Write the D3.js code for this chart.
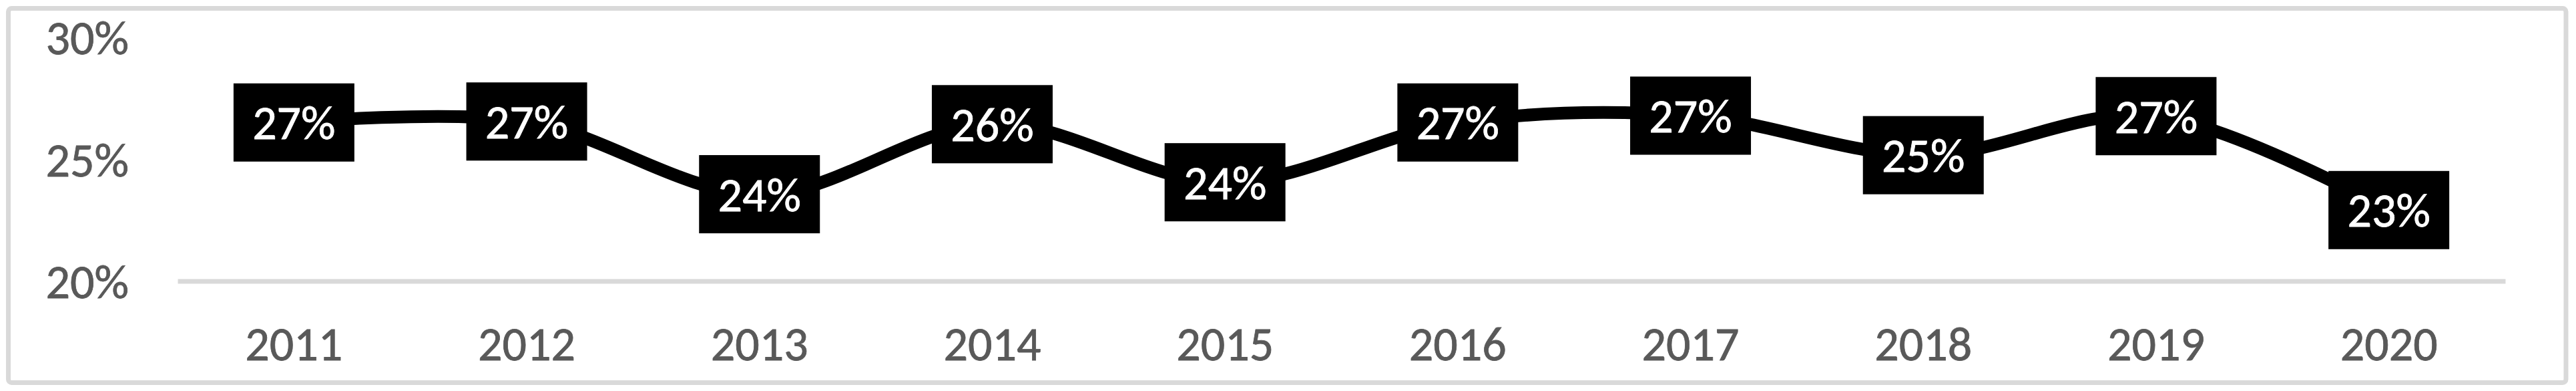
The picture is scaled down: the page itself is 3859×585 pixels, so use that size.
<!DOCTYPE html>
<meta charset="utf-8">
<style>
body { margin: 0; background: #fff; }
text { font-family: Calibri, Carlito, Lato, sans-serif; }
.axis text { fill: #595959; stroke: #595959; stroke-width: 0.8px; }
.label text { fill: #fff; stroke: #fff; stroke-width: 0.8px; }
</style>
<svg width="3859" height="585"></svg>
<script src="https://cdn.jsdelivr.net/npm/d3@7"></script>
<script>

var years = ["2011", "2012", "2013", "2014", "2015", "2016", "2017", "2018", "2019", "2020"];
var shares = [0.2650, 0.2654, 0.2356, 0.2643, 0.2405, 0.2650, 0.2678, 0.2516, 0.2676, 0.2291];
var yTicks = [0.20, 0.25, 0.30];

var svg = d3.select("svg"),
    width = +svg.attr("width"),
    height = +svg.attr("height");

var plot = {left: 266, right: 3753, top: 55.5, bottom: 420.5};

// chart frame
svg.append("rect")
    .attr("x", 12.5)
    .attr("y", 12.5)
    .attr("width", 3831.5)
    .attr("height", 560)
    .attr("rx", 5)
    .attr("fill", "#fff")
    .attr("stroke", "#d9d9d9")
    .attr("stroke-width", 7);

var x = d3.scaleBand()
    .domain(years)
    .range([plot.left, plot.right])
    .padding(0);

var y = d3.scaleLinear()
    .domain([0.20, 0.30])
    .range([plot.bottom, plot.top]);

var pct = d3.format(".0%");

// y axis: labels only
var yAxis = svg.append("g")
    .attr("class", "axis")
    .attr("transform", "translate(193,0)")
    .call(d3.axisLeft(y).tickValues(yTicks).tickFormat(pct).tickSize(0).tickPadding(0));
yAxis.select(".domain").remove();
yAxis.selectAll("text")
    .attr("dy", "0.35em")
    .style("font-size", "72px");

// x axis line + labels
var xAxis = svg.append("g")
    .attr("class", "axis")
    .attr("transform", "translate(0," + plot.bottom + ")")
    .call(d3.axisBottom(x).tickSize(0).tickPadding(0));
xAxis.select(".domain")
    .attr("stroke", "#d9d9d9")
    .attr("stroke-width", 7);
xAxis.selectAll("text")
    .attr("y", 118.5)
    .attr("dy", 0)
    .style("font-size", "72px");

var cx = function (d, i) { return x(years[i]) + x.bandwidth() / 2; };

var line = d3.line()
    .x(function (d, i) { return cx(d, i); })
    .y(function (d) { return y(d); })
    .curve(d3.curveCardinal.tension(0));

svg.append("path")
    .datum(shares)
    .attr("d", line)
    .attr("fill", "none")
    .attr("stroke", "#000")
    .attr("stroke-width", 19)
    .attr("stroke-linejoin", "round");

var boxW = 181, boxH = 117;

var label = svg.selectAll(".label")
    .data(shares)
    .enter()
    .append("g")
    .attr("class", "label")
    .attr("transform", function (d, i) { return "translate(" + cx(d, i) + "," + y(d) + ")"; });

label.append("rect")
    .attr("x", -boxW / 2)
    .attr("y", -boxH / 2)
    .attr("width", boxW)
    .attr("height", boxH)
    .attr("fill", "#000");

label.append("text")
    .attr("text-anchor", "middle")
    .attr("dy", "0.35em")
    .style("font-size", "72px")
    .text(function (d) { return pct(d); });

</script>
